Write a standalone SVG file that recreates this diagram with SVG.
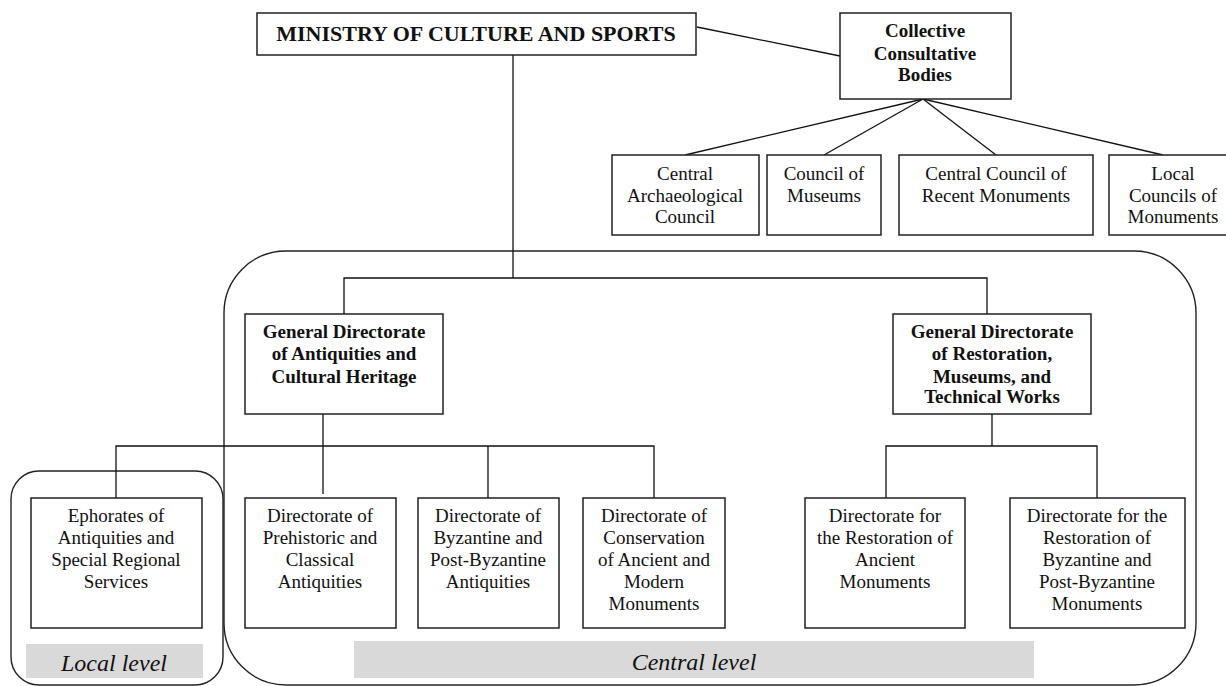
<svg xmlns="http://www.w3.org/2000/svg" width="1226" height="686" viewBox="0 0 1226 686">
<style>
.box{fill:#fff;stroke:#222;stroke-width:1.5}
.grp{fill:none;stroke:#222;stroke-width:1.4}
.ln{fill:none;stroke:#111;stroke-width:1.3}
.band{fill:#d9d9d9}
text{font-family:"Liberation Serif","Times New Roman",serif;fill:#111;text-anchor:middle}
.t{font-size:19px}
.b{font-size:19px;font-weight:bold}
.h{font-size:22px;font-weight:bold}
.i{font-size:24px;font-style:italic}
</style>
<rect width="1226" height="686" fill="#fff"/>
<g id="groups">
<rect class="grp" x="224" y="251" width="972" height="434" rx="62" ry="62"/>
<rect class="grp" x="11" y="471" width="212" height="214" rx="28" ry="28"/>
<rect class="band" x="26" y="644" width="177" height="34"/>
<rect class="band" x="354" y="641" width="680" height="37"/>
<text class="i" x="114" y="671">Local level</text>
<text class="i" x="694" y="670">Central level</text>
</g>
<g id="connectors">
<line class="ln" x1="513" y1="55" x2="513" y2="278"/>
<polyline class="ln" points="344,314 344,278 987,278 987,314"/>
<line class="ln" x1="697" y1="27" x2="840" y2="56"/>
<line class="ln" x1="923" y1="99" x2="685" y2="155"/>
<line class="ln" x1="923" y1="99" x2="824" y2="155"/>
<line class="ln" x1="923" y1="99" x2="996" y2="155"/>
<line class="ln" x1="923" y1="99" x2="1163" y2="155"/>
<line class="ln" x1="323" y1="414" x2="323" y2="494"/>
<polyline class="ln" points="116,498 116,446 654,446 654,498"/>
<line class="ln" x1="488" y1="446" x2="488" y2="498"/>
<line class="ln" x1="992" y1="414" x2="992" y2="446"/>
<polyline class="ln" points="886,498 886,446 1097,446 1097,498"/>
</g>
<g id="ministry">
<rect class="box" x="257" y="13" width="439" height="42"/>
<text class="h" x="476" y="41">MINISTRY OF CULTURE AND SPORTS</text>
</g>
<g id="collective">
<rect class="box" x="840" y="13" width="171" height="86"/>
<text class="b" x="925" y="37">Collective</text>
<text class="b" x="925" y="60">Consultative</text>
<text class="b" x="925" y="81">Bodies</text>
</g>
<g id="central-archaeological-council">
<rect class="box" x="612" y="155" width="147" height="80"/>
<text class="t" x="685" y="180">Central</text>
<text class="t" x="685" y="202">Archaeological</text>
<text class="t" x="685" y="223">Council</text>
</g>
<g id="council-of-museums">
<rect class="box" x="767" y="155" width="114" height="80"/>
<text class="t" x="824" y="180">Council of</text>
<text class="t" x="824" y="202">Museums</text>
</g>
<g id="central-council-recent">
<rect class="box" x="899" y="155" width="194" height="80"/>
<text class="t" x="996" y="180">Central Council of</text>
<text class="t" x="996" y="202">Recent Monuments</text>
</g>
<g id="local-councils">
<rect class="box" x="1109" y="155" width="128" height="80"/>
<text class="t" x="1173" y="180">Local</text>
<text class="t" x="1173" y="202">Councils of</text>
<text class="t" x="1173" y="223">Monuments</text>
</g>
<g id="gd-antiquities">
<rect class="box" x="245" y="314" width="198" height="100"/>
<text class="b" x="344" y="338">General Directorate</text>
<text class="b" x="344" y="360">of Antiquities and</text>
<text class="b" x="344" y="383">Cultural Heritage</text>
</g>
<g id="gd-restoration">
<rect class="box" x="893" y="314" width="198" height="100"/>
<text class="b" x="992" y="338">General Directorate</text>
<text class="b" x="992" y="360">of Restoration,</text>
<text class="b" x="992" y="383">Museums, and</text>
<text class="b" x="992" y="403">Technical Works</text>
</g>
<g id="ephorates">
<rect class="box" x="31" y="498" width="171" height="130"/>
<text class="t" x="116" y="522">Ephorates of</text>
<text class="t" x="116" y="544">Antiquities and</text>
<text class="t" x="116" y="566">Special Regional</text>
<text class="t" x="116" y="588">Services</text>
</g>
<g id="dir-prehistoric">
<rect class="box" x="245" y="498" width="151" height="130"/>
<text class="t" x="320" y="522">Directorate of</text>
<text class="t" x="320" y="544">Prehistoric and</text>
<text class="t" x="320" y="566">Classical</text>
<text class="t" x="320" y="588">Antiquities</text>
</g>
<g id="dir-byzantine">
<rect class="box" x="418" y="498" width="141" height="130"/>
<text class="t" x="488" y="522">Directorate of</text>
<text class="t" x="488" y="544">Byzantine and</text>
<text class="t" x="488" y="566">Post-Byzantine</text>
<text class="t" x="488" y="588">Antiquities</text>
</g>
<g id="dir-conservation">
<rect class="box" x="583" y="498" width="142" height="130"/>
<text class="t" x="654" y="522">Directorate of</text>
<text class="t" x="654" y="544">Conservation</text>
<text class="t" x="654" y="566">of Ancient and</text>
<text class="t" x="654" y="588">Modern</text>
<text class="t" x="654" y="610">Monuments</text>
</g>
<g id="dir-restoration-ancient">
<rect class="box" x="805" y="498" width="160" height="130"/>
<text class="t" x="885" y="522">Directorate for</text>
<text class="t" x="885" y="544">the Restoration of</text>
<text class="t" x="885" y="566">Ancient</text>
<text class="t" x="885" y="588">Monuments</text>
</g>
<g id="dir-restoration-byzantine">
<rect class="box" x="1010" y="498" width="175" height="130"/>
<text class="t" x="1097" y="522">Directorate for the</text>
<text class="t" x="1097" y="544">Restoration of</text>
<text class="t" x="1097" y="566">Byzantine and</text>
<text class="t" x="1097" y="588">Post-Byzantine</text>
<text class="t" x="1097" y="610">Monuments</text>
</g>
</svg>
